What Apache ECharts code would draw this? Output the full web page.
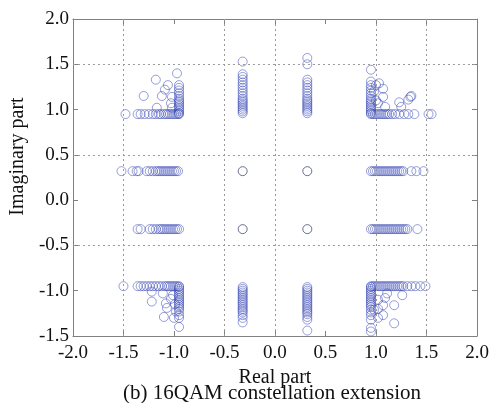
<!DOCTYPE html>
<html>
<head>
<meta charset="utf-8">
<script src="https://cdn.jsdelivr.net/npm/echarts@6/dist/echarts.min.js"></script>
<style>
html,body{margin:0;padding:0;background:#fff;}
#chart{width:497px;height:403px;}
</style>
</head>
<body>
<div id="chart"></div>
<script>
// Axis ticks
const xTicks = [-2.0, -1.5, -1.0, -0.5, 0.0, 0.5, 1.0, 1.5, 2.0];
const yTicks = [-1.5, -1.0, -0.5, 0.0, 0.5, 1.0, 1.5, 2.0];
// Grid lines present in the reference
const gridX = [-1.5, -0.5, 0.0, 1.0, 1.5];
const gridY = [1.5, 0.5, -0.5];

// Inner constellation points (unextended)
const innerPoints = [[-0.32, 0.32], [0.32, 0.32], [-0.32, -0.32], [0.32, -0.32]];

// Top-left corner cluster
const cornerTopLeft = [
  [-1.48,0.95],[-1.36,0.95],[-1.33,0.95],[-1.29,0.95],[-1.25,0.95],[-1.21,0.95],[-1.18,0.95],[-1.15,0.95],[-1.13,0.95],[-1.10,0.95],[-1.08,0.95],[-1.06,0.95],[-1.04,0.95],[-1.02,0.95],[-1.00,0.95],[-0.98,0.95],[-0.96,0.95],[-0.95,0.95],
  [-0.95,1.27],[-0.95,1.24],[-0.95,1.21],[-0.95,1.18],[-0.95,1.15],[-0.95,1.12],[-0.95,1.10],[-0.95,1.08],[-0.95,1.06],[-0.95,1.04],[-0.95,1.02],[-0.95,1.00],[-0.95,0.98],[-0.95,0.96],
  [-0.97,1.40],[-1.18,1.33],[-1.30,1.15],[-1.06,1.27],[-1.09,1.22],[-1.12,1.15],[-1.02,1.14],[-1.17,1.02],[-1.03,1.07],[-1.02,1.02]
];
// Top-right corner cluster
const cornerTopRight = [
  [0.95,0.95],[0.97,0.95],[0.99,0.95],[1.01,0.95],[1.03,0.95],[1.05,0.95],[1.07,0.95],[1.09,0.95],[1.11,0.95],[1.13,0.95],[1.16,0.95],[1.19,0.95],[1.23,0.95],[1.28,0.95],[1.32,0.95],[1.38,0.95],[1.52,0.95],[1.55,0.95],
  [0.95,1.44],[0.95,1.31],[0.95,1.27],[0.95,1.24],[0.95,1.21],[0.95,1.18],[0.95,1.15],[0.95,1.12],[0.95,1.10],[0.95,1.08],[0.95,1.06],[0.95,1.04],[0.95,1.02],[0.95,1.00],[0.95,0.98],[0.95,0.96],
  [1.07,1.23],[1.07,1.14],[1.00,1.27],[1.03,1.29],[1.02,1.07],[1.09,1.03],[1.23,1.08],[1.25,1.03],[1.32,1.11],[1.34,1.14],[1.35,1.15],[0.98,1.20],[1.00,1.10]
];
// Bottom-left corner cluster
const cornerBottomLeft = [
  [-1.50,-0.95],[-1.36,-0.95],[-1.33,-0.95],[-1.30,-0.95],[-1.27,-0.95],[-1.24,-0.95],[-1.21,-0.95],[-1.18,-0.95],[-1.15,-0.95],[-1.12,-0.95],[-1.09,-0.95],[-1.07,-0.95],[-1.05,-0.95],[-1.03,-0.95],[-1.01,-0.95],[-0.99,-0.95],[-0.97,-0.95],[-0.95,-0.95],
  [-0.95,-0.96],[-0.95,-0.98],[-0.95,-1.00],[-0.95,-1.02],[-0.95,-1.04],[-0.95,-1.06],[-0.95,-1.08],[-0.95,-1.10],[-0.95,-1.12],[-0.95,-1.14],[-0.95,-1.16],[-0.95,-1.18],[-0.95,-1.20],[-0.95,-1.23],[-0.95,-1.27],[-0.95,-1.30],[-0.95,-1.40],
  [-1.22,-1.12],[-1.22,-1.01],[-1.11,-1.03],[-1.08,-1.14],[-1.07,-1.19],[-1.10,-1.29],[-1.00,-1.30],[-1.03,-1.09],[-0.98,-1.23],[-1.01,-1.05],[-0.99,-1.15]
];
// Bottom-right corner cluster
const cornerBottomRight = [
  [0.95,-0.95],[0.97,-0.95],[0.99,-0.95],[1.01,-0.95],[1.03,-0.95],[1.05,-0.95],[1.07,-0.95],[1.09,-0.95],[1.11,-0.95],[1.13,-0.95],[1.15,-0.95],[1.17,-0.95],[1.19,-0.95],[1.21,-0.95],[1.23,-0.95],[1.25,-0.95],[1.27,-0.95],[1.31,-0.95],[1.35,-0.95],[1.39,-0.95],[1.44,-0.95],[1.49,-0.95],
  [0.95,-0.96],[0.95,-0.98],[0.95,-1.00],[0.95,-1.02],[0.95,-1.04],[0.95,-1.06],[0.95,-1.08],[0.95,-1.10],[0.95,-1.12],[0.95,-1.14],[0.95,-1.16],[0.95,-1.18],[0.95,-1.21],[0.95,-1.24],[0.95,-1.27],[0.95,-1.32],[0.95,-1.41],[0.95,-1.45],
  [1.18,-1.36],[1.18,-1.16],[1.26,-1.05],[1.07,-1.16],[1.07,-1.27],[1.02,-1.30],[1.09,-1.08],[1.11,-1.03],[1.02,-1.10],[0.98,-1.21],[1.02,-1.20]
];
// Edge clusters (vertical)
const edgeTopLeft = [
  [-0.32,1.53],[-0.32,1.39],[-0.32,1.36],[-0.32,1.33],[-0.32,1.30],[-0.32,1.27],[-0.32,1.24],[-0.32,1.21],[-0.32,1.18],[-0.32,1.15],[-0.32,1.12],[-0.32,1.10],[-0.32,1.08],[-0.32,1.06],[-0.32,1.04],[-0.32,1.02],[-0.32,1.00],[-0.32,0.98],[-0.32,0.96]
];
const edgeTopRight = [
  [0.32,1.57],[0.32,1.50],[0.32,1.33],[0.32,1.30],[0.32,1.27],[0.32,1.24],[0.32,1.21],[0.32,1.18],[0.32,1.15],[0.32,1.12],[0.32,1.10],[0.32,1.08],[0.32,1.06],[0.32,1.04],[0.32,1.02],[0.32,1.00],[0.32,0.98],[0.32,0.96]
];
const edgeBottomLeft = [
  [-0.32,-0.96],[-0.32,-0.98],[-0.32,-1.00],[-0.32,-1.02],[-0.32,-1.04],[-0.32,-1.06],[-0.32,-1.08],[-0.32,-1.10],[-0.32,-1.12],[-0.32,-1.14],[-0.32,-1.16],[-0.32,-1.18],[-0.32,-1.20],[-0.32,-1.22],[-0.32,-1.24],[-0.32,-1.27],[-0.32,-1.30],[-0.32,-1.35]
];
const edgeBottomRight = [
  [0.32,-0.96],[0.32,-0.98],[0.32,-1.00],[0.32,-1.02],[0.32,-1.04],[0.32,-1.06],[0.32,-1.08],[0.32,-1.10],[0.32,-1.12],[0.32,-1.14],[0.32,-1.16],[0.32,-1.18],[0.32,-1.20],[0.32,-1.22],[0.32,-1.24],[0.32,-1.26],[0.32,-1.29],[0.32,-1.32],[0.32,-1.44]
];
// Edge clusters (horizontal)
const edgeLeftUpper = [
  [-1.52,0.32],[-1.41,0.32],[-1.37,0.32],[-1.35,0.32],[-1.27,0.32],[-1.24,0.32],[-1.21,0.32],[-1.18,0.32],[-1.16,0.32],[-1.14,0.32],[-1.12,0.32],[-1.10,0.32],[-1.08,0.32],[-1.06,0.32],[-1.04,0.32],[-1.02,0.32],[-1.00,0.32],[-0.98,0.32],[-0.96,0.32]
];
const edgeLeftLower = [
  [-1.36,-0.32],[-1.33,-0.32],[-1.24,-0.32],[-1.21,-0.32],[-1.18,-0.32],[-1.15,-0.32],[-1.13,-0.32],[-1.11,-0.32],[-1.09,-0.32],[-1.07,-0.32],[-1.05,-0.32],[-1.03,-0.32],[-1.01,-0.32],[-0.99,-0.32],[-0.97,-0.32],[-0.95,-0.32]
];
const edgeRightUpper = [
  [0.95,0.32],[0.97,0.32],[0.99,0.32],[1.01,0.32],[1.03,0.32],[1.05,0.32],[1.07,0.32],[1.09,0.32],[1.11,0.32],[1.13,0.32],[1.15,0.32],[1.17,0.32],[1.19,0.32],[1.21,0.32],[1.23,0.32],[1.25,0.32],[1.27,0.32],[1.35,0.32],[1.40,0.32],[1.47,0.32]
];
const edgeRightLower = [
  [0.95,-0.32],[0.97,-0.32],[0.99,-0.32],[1.01,-0.32],[1.03,-0.32],[1.05,-0.32],[1.07,-0.32],[1.09,-0.32],[1.11,-0.32],[1.13,-0.32],[1.15,-0.32],[1.17,-0.32],[1.19,-0.32],[1.21,-0.32],[1.23,-0.32],[1.25,-0.32],[1.27,-0.32],[1.29,-0.32],[1.31,-0.32],[1.41,-0.32]
];

const extendedPoints = [].concat(
  cornerTopLeft, cornerTopRight, cornerBottomLeft, cornerBottomRight,
  edgeTopLeft, edgeTopRight, edgeBottomLeft, edgeBottomRight,
  edgeLeftUpper, edgeLeftLower, edgeRightUpper, edgeRightLower
);

const FONT = 'Liberation Serif';
const AXIS_COLOR = '#808080';
const fmt = v => Number(v).toFixed(1);

const chart = echarts.init(document.getElementById('chart'), null, {renderer: 'canvas'});
const labelStyle = {formatter: fmt, fontFamily: FONT, fontSize: 19, color: '#111'};
const mirrorAxis = (pos, min, max) => ({
  type: 'value', position: pos, min: min, max: max, interval: 0.5,
  axisLine: {show: true, onZero: false, lineStyle: {color: AXIS_COLOR, width: 1}},
  axisTick: {show: true, inside: true, length: 5, lineStyle: {color: AXIS_COLOR, width: 1}},
  axisLabel: {show: false}, splitLine: {show: false}
});

chart.setOption({
  animation: false,
  backgroundColor: '#ffffff',
  textStyle: {fontFamily: FONT},
  title: {
    text: '(b) 16QAM constellation extension',
    left: 272, top: 383, textAlign: 'center', padding: 0,
    textStyle: {fontFamily: FONT, fontSize: 21, fontWeight: 'normal', color: '#111'}
  },
  grid: {left: 68, right: 20, top: 19, bottom: 67, containLabel: false},
  xAxis: [
    {
      type: 'value', position: 'bottom',
      min: xTicks[0], max: xTicks[xTicks.length - 1], interval: 0.5,
      axisLine: {show: true, onZero: false, lineStyle: {color: AXIS_COLOR, width: 1}},
      axisTick: {show: true, inside: true, length: 5, lineStyle: {color: AXIS_COLOR, width: 1}},
      splitLine: {show: false},
      axisLabel: Object.assign({}, labelStyle, {margin: 8}),
      name: 'Real part', nameLocation: 'middle', nameGap: 21,
      nameTextStyle: {fontFamily: FONT, fontSize: 20, color: '#111'}
    },
    mirrorAxis('top', xTicks[0], xTicks[xTicks.length - 1])
  ],
  yAxis: [
    {
      type: 'value', position: 'left',
      min: yTicks[0], max: yTicks[yTicks.length - 1], interval: 0.5,
      axisLine: {show: true, onZero: false, lineStyle: {color: AXIS_COLOR, width: 1}},
      axisTick: {show: true, inside: true, length: 5, lineStyle: {color: AXIS_COLOR, width: 1}},
      splitLine: {show: false},
      axisLabel: Object.assign({}, labelStyle, {margin: 4}),
      name: 'Imaginary part', nameLocation: 'middle', nameGap: 40,
      nameTextStyle: {fontFamily: FONT, fontSize: 20, color: '#111', padding: [0, 0, 0, 42]}
    },
    mirrorAxis('right', yTicks[0], yTicks[yTicks.length - 1])
  ],
  series: [
    {
      type: 'scatter', xAxisIndex: 0, yAxisIndex: 0,
      data: [],
      silent: true,
      markLine: {
        silent: true, symbol: 'none', animation: false,
        label: {show: false},
        lineStyle: {color: '#9a9a9a', type: [2, 3], width: 1},
        data: gridX.map(v => ({xAxis: v})).concat(gridY.map(v => ({yAxis: v})))
      }
    },
    {
      type: 'scatter', xAxisIndex: 0, yAxisIndex: 0,
      data: extendedPoints,
      symbol: 'circle', symbolSize: 9,
      itemStyle: {color: 'rgba(0,0,0,0)', borderColor: 'rgba(55,70,180,0.65)', borderWidth: 1},
      emphasis: {disabled: true}
    },
    {
      type: 'scatter', xAxisIndex: 0, yAxisIndex: 0,
      data: innerPoints,
      symbol: 'circle', symbolSize: 9,
      itemStyle: {color: 'rgba(0,0,0,0)', borderColor: '#444c80', borderWidth: 1},
      emphasis: {disabled: true}
    }
  ]
});
</script>
</body>
</html>
